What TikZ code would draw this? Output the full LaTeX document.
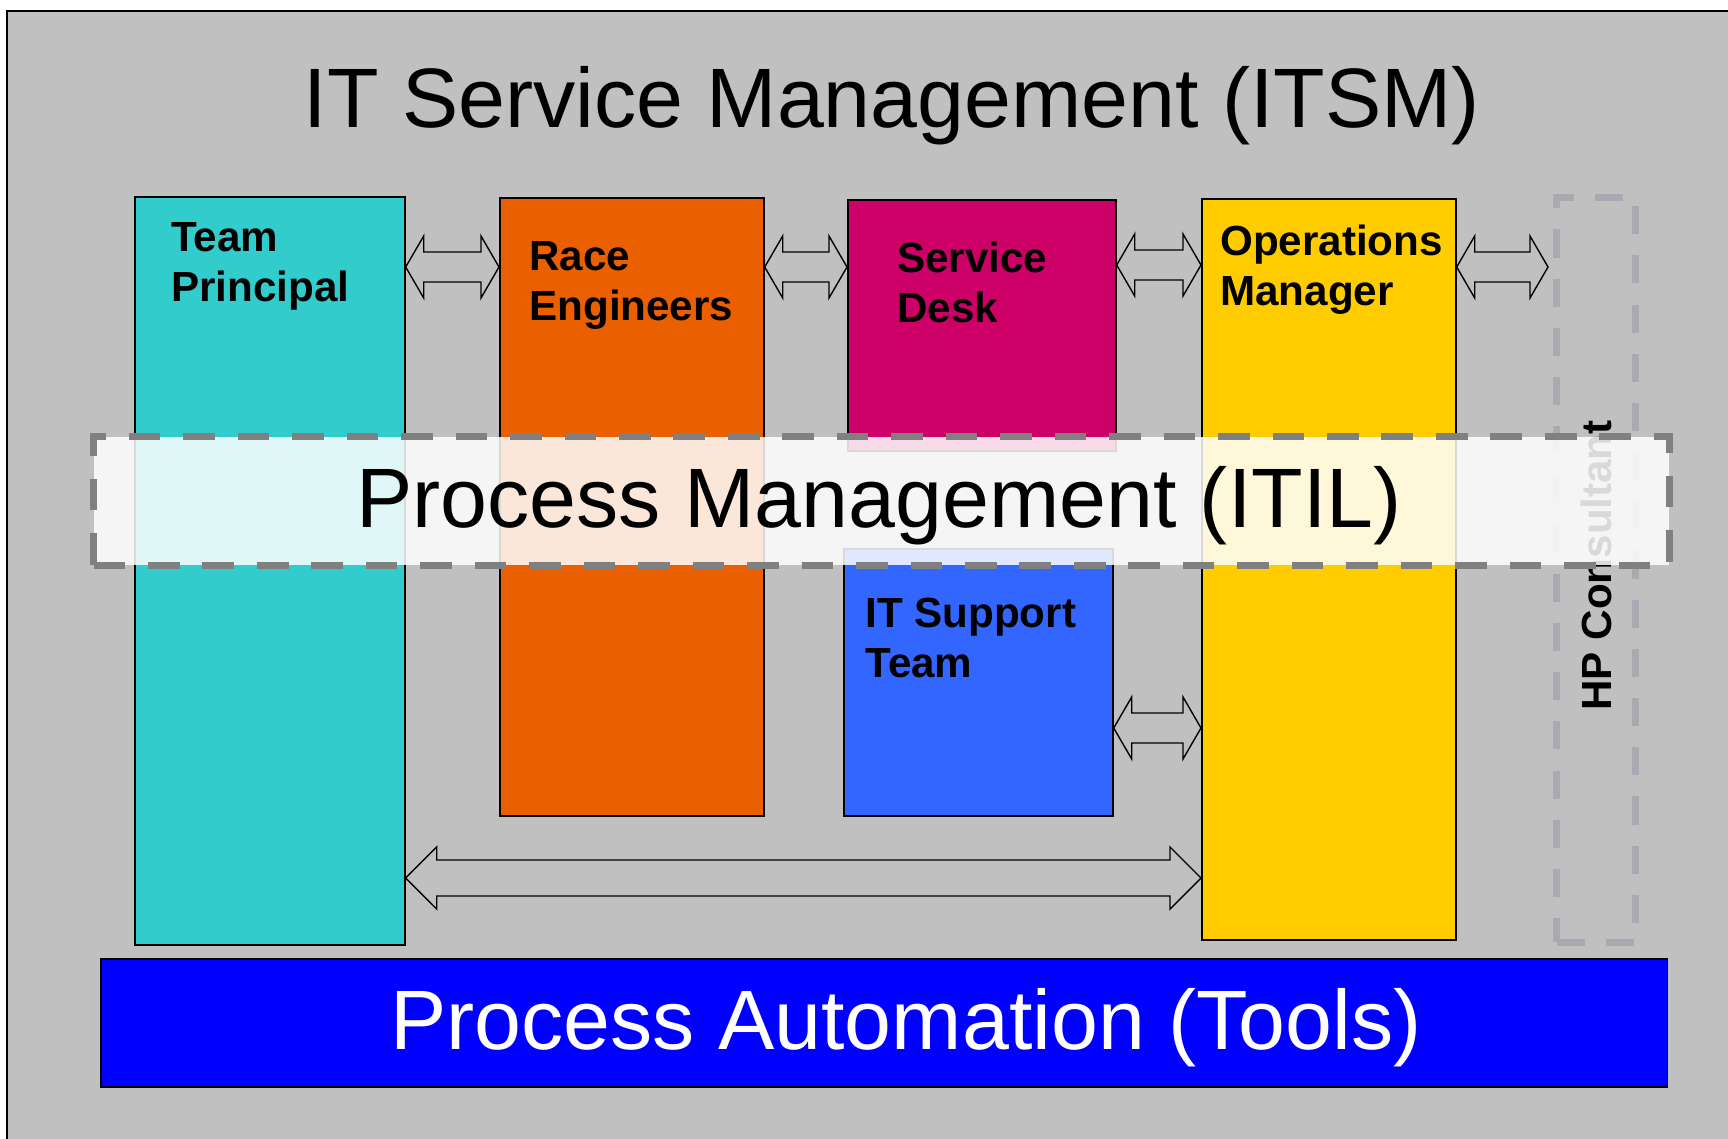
\documentclass[tikz,border=0pt]{standalone}
\usepackage{fontspec}
\setmainfont{Liberation Sans}
\usetikzlibrary{calc}

\definecolor{tpcyan}{HTML}{33CCCC}
\definecolor{reorange}{HTML}{EA6000}
\definecolor{sdmagenta}{HTML}{CC0066}
\definecolor{itblue}{HTML}{3366FF}
\definecolor{omyellow}{HTML}{FFCC00}
\definecolor{pablue}{HTML}{0000FF}
\definecolor{bggray}{HTML}{C0C0C0}
\definecolor{hpgray}{HTML}{A8A9B1}
\definecolor{bandgray}{HTML}{808080}

\newcommand{\dblarrow}[4]{%
  \draw[blockarrow] (#1) -- ($(#1)+(#3,-31)$) -- ($(#1)+(#3,-#4)$) -- ($(#2)+(-#3,-#4)$) -- ($(#2)+(-#3,-31)$) -- (#2)
    -- ($(#2)+(-#3,31)$) -- ($(#2)+(-#3,#4)$) -- ($(#1)+(#3,#4)$) -- ($(#1)+(#3,31)$) -- cycle;}

\begin{document}
\begin{tikzpicture}[x=0.02cm, y=-0.02cm,
  box/.style={rectangle, draw=black, line width=1pt, anchor=north west, inner sep=0},
  lbl/.style={anchor=base west, align=left, inner sep=0, font=\fontsize{24}{28}\selectfont\bfseries},
  big/.style={anchor=base, inner sep=0, font=\fontsize{48}{58}\selectfont},
  blockarrow/.style={draw=black, line width=0.8pt, fill=bggray, line join=miter}]
			\useasboundingbox (0,0) rectangle (1728,1139);
			\fill[white] (0,0) rectangle (1728,1139);
			\draw[fill=bggray, line width=1.5pt] (7,11) rectangle (1760,1170);
			
			\node[big] (title) at (892,127) {IT Service Management (ITSM)};
			
			\node[box, fill=tpcyan, minimum width=5.40cm, minimum height=14.96cm] (tp) at (134,196) {};
			\node[box, fill=reorange, minimum width=5.28cm, minimum height=12.36cm] (re) at (499,197) {};
			\node[box, fill=sdmagenta, minimum width=5.36cm, minimum height=5.02cm] (sd) at (847,199) {};
			\node[box, fill=itblue, minimum width=5.38cm, minimum height=5.34cm] (it) at (843,548) {};
			\node[box, fill=omyellow, minimum width=5.08cm, minimum height=14.82cm] (om) at (1201,198) {};
			\node[box, draw=hpgray, line width=4pt, dash pattern=on 16pt off 12pt, minimum width=1.58cm, minimum height=14.90cm] (hp) at (1553,194) {};
			
			\node[lbl] (tp-lbl) at (171,301) {Team\\Principal};
			\node[lbl] (re-lbl) at (529,320) {Race\\Engineers};
			\node[lbl] (sd-lbl) at (897,322) {Service\\Desk};
			\node[lbl] (om-lbl) at (1220,305) {Operations\\Manager};
			\node[lbl] (it-lbl) at (865,677) {IT Support\\Team};
			\node[rotate=90, anchor=west, inner sep=0, font=\fontsize{24}{28}\selectfont\bfseries] (hp-lbl) at (hp.center |- 0,711) {HP Consultant};
			
			\coordinate (a1l) at (tp.east |- 0,267); \coordinate (a1r) at (re.west |- 0,267);
			\coordinate (a2l) at (re.east |- 0,267); \coordinate (a2r) at (sd.west |- 0,267);
			\coordinate (a3l) at (sd.east |- 0,265); \coordinate (a3r) at (om.west |- 0,265);
			\coordinate (a4l) at (om.east |- 0,267); \coordinate (a4r) at ($(hp.west |- 0,267)+(-5,0)$);
			\coordinate (a5l) at (it.east |- 0,728); \coordinate (a5r) at (om.west |- 0,728);
			\coordinate (a6l) at (tp.east |- 0,878); \coordinate (a6r) at (om.west |- 0,878);
			\dblarrow{a1l}{a1r}{18}{15}
			\dblarrow{a2l}{a2r}{18}{15}
			\dblarrow{a3l}{a3r}{18}{15}
			\dblarrow{a4l}{a4r}{18}{15}
			\dblarrow{a5l}{a5r}{18}{15}
			\dblarrow{a6l}{a6r}{31}{18}
			
			\node[box, fill=white, fill opacity=0.85, draw=bandgray, line width=4pt, dash pattern=on 18pt off 13pt, minimum width=31.52cm, minimum height=2.58cm] (itil) at (90,433) {};
			\node[big] (itil-lbl) at (879,527) {Process Management (ITIL)};
			
			\node[box, fill=pablue, minimum width=31.34cm, minimum height=2.56cm] (tools) at (100,958) {};
			\node[big, text=white] (tools-lbl) at (906,1049) {Process Automation (Tools)};
			\end{tikzpicture}
\end{document}
